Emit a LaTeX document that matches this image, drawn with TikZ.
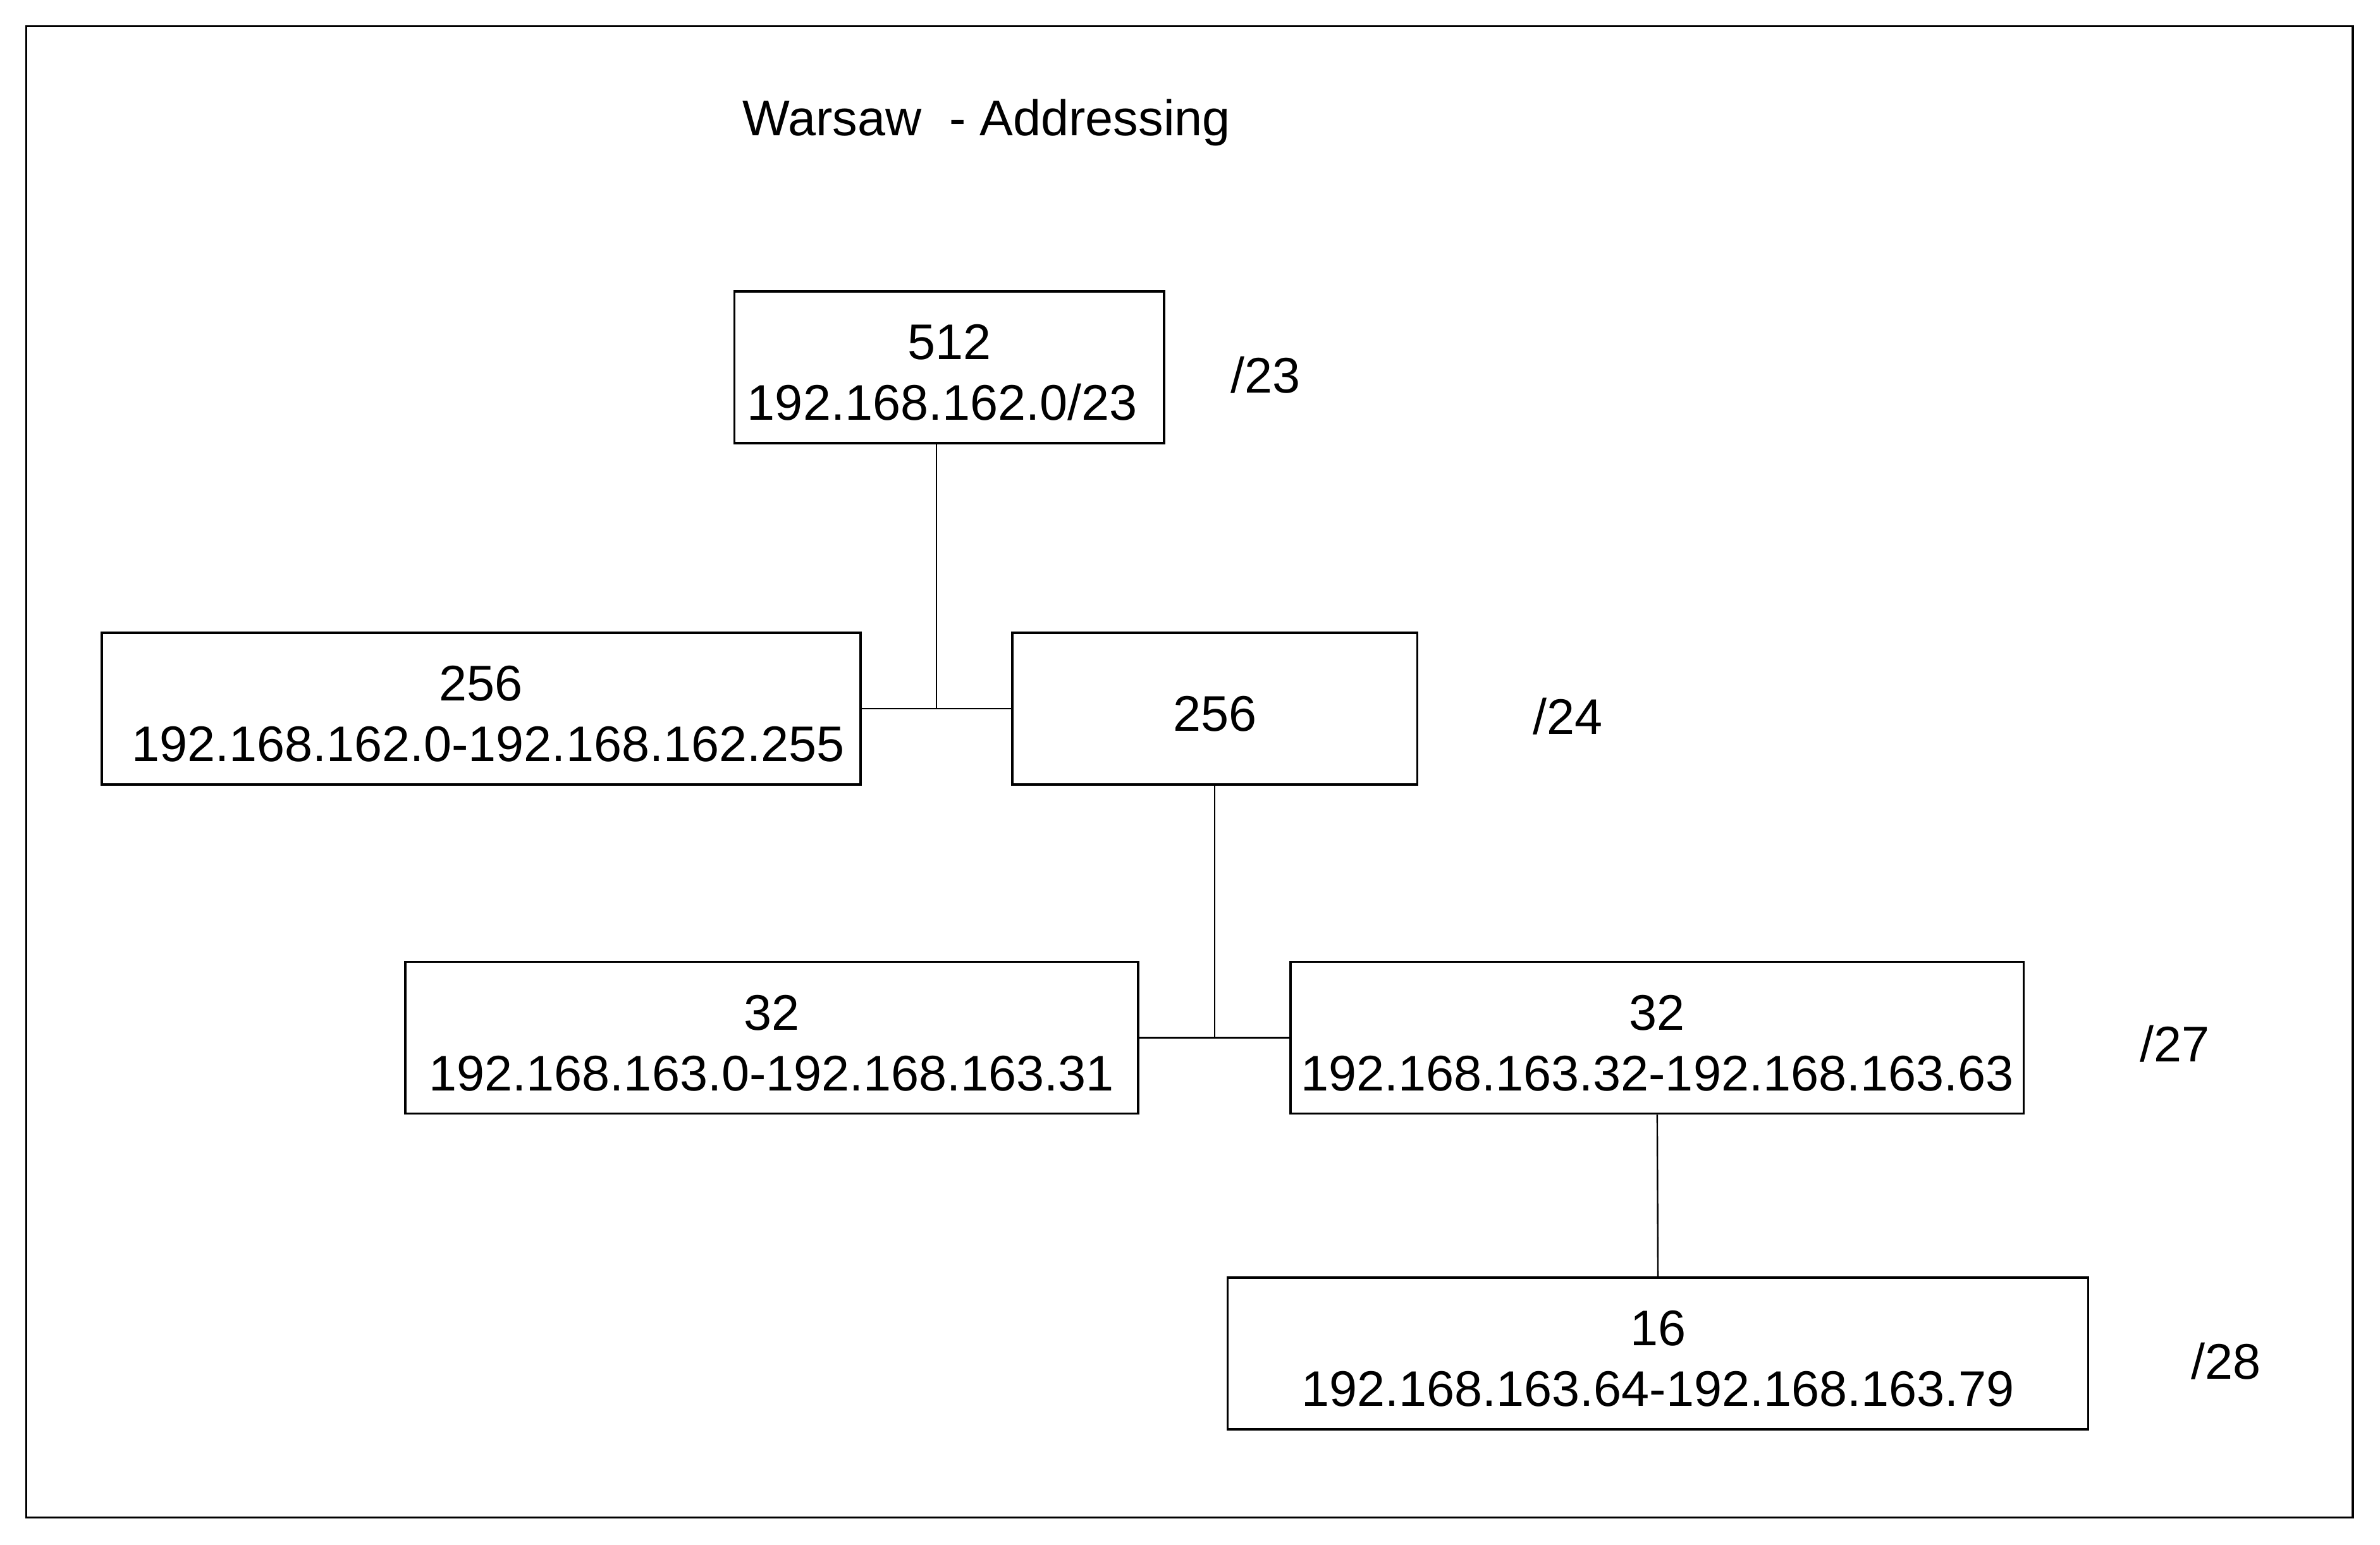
\documentclass[tikz,border=0pt]{standalone}
\usepackage{fontspec}
\setmainfont{Liberation Sans}
\newcommand{\toplift}{\rule{0pt}{15pt}}
\begin{document}
\begin{tikzpicture}[x=0.5pt,y=-0.5pt,
  box/.style={draw=black,line width=0.75pt,rectangle,inner sep=0pt,align=center,
    font=\fontsize{16.5}{20}\selectfont},
  lbl/.style={inner sep=0pt,font=\fontsize{16.5}{20}\selectfont},
  link/.style={draw=black,line width=0.5pt}]
\useasboundingbox (0,0) rectangle (1568.3,1018.3);
\node[draw=black,line width=0.75pt,minimum width=766.5pt,minimum height=491.5pt,inner sep=0pt] (frame) at (783.75,508.75) {};
\node[lbl] (title) at (650,81) {Warsaw\ \ - Addressing};
\node[box,minimum width=141.5pt,minimum height=50pt] (b1) at (625.5,242) {\toplift 512\\192.168.162.0/23\hspace*{0.278em}};
\node[lbl] (l23) at (834,247) {/23};
\node[box,minimum width=250pt,minimum height=50pt] (b2) at (317,467) {\toplift 256\\\hspace*{0.278em}192.168.162.0-192.168.162.255};
\node[box,minimum width=133.5pt,minimum height=50pt] (b3) at (800.5,467) {\toplift 256};
\node[lbl] (l24) at (1033,472) {/24};
\node[box,minimum width=241.5pt,minimum height=50pt] (b4) at (508.5,684) {\toplift 32\\192.168.163.0-192.168.163.31};
\node[box,minimum width=241.5pt,minimum height=50pt] (b5) at (1092,684) {\toplift 32\\192.168.163.32-192.168.163.63};
\node[lbl] (l27) at (1433,688) {/27};
\node[box,minimum width=283.5pt,minimum height=50pt] (b6) at (1092.5,892) {\toplift 16\\192.168.163.64-192.168.163.79};
\node[lbl] (l28) at (1467,897) {/28};
\coordinate (j1) at (617,467);
\coordinate (j2) at (800.5,684);
\draw[link] (b1.south -| j1) -- (j1);
\draw[link] (b2.east) -- (b3.west);
\draw[link] (b3.south) -- (j2);
\draw[link] (b4.east) -- (b5.west);
\draw[link] (b5.south) -- (b6.north);
\end{tikzpicture}
\end{document}
